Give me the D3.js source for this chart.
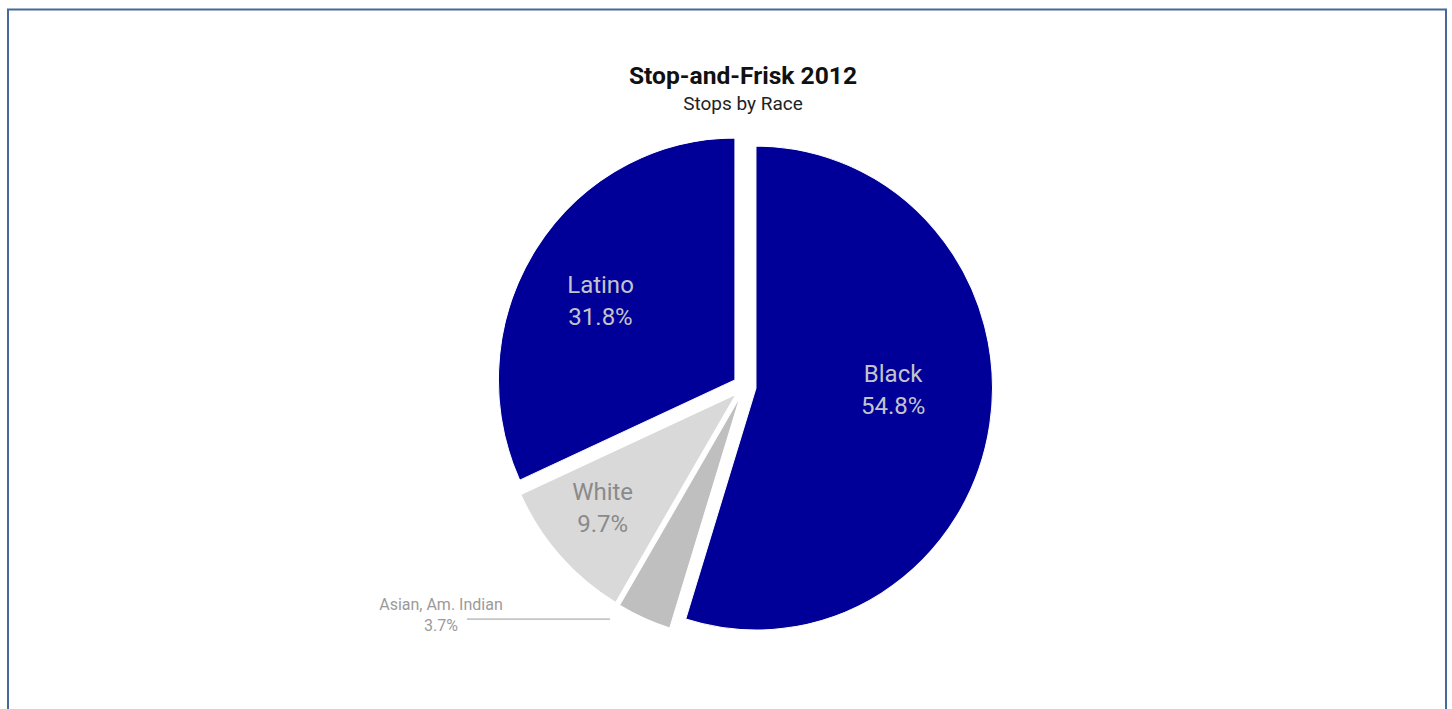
<!DOCTYPE html>
<html>
<head>
<meta charset="utf-8">
<script src="https://cdn.jsdelivr.net/npm/d3@7/dist/d3.min.js"></script>
<style>
  html, body { margin: 0; padding: 0; background: #fff; }
  svg { display: block; }
  text { font-family: Roboto, "Noto Sans", sans-serif; }
</style>
</head>
<body>
<svg id="chart" width="1452" height="709"></svg>
<script>
// Stop-and-Frisk 2012: share of stops by race, clockwise from 12 o'clock
const categories = ["Black", "Asian, Am. Indian", "White", "Latino"];
const shares = [54.8, 3.7, 9.7, 31.8];
const chartTitle = "Stop-and-Frisk 2012";
const chartSubtitle = "Stops by Race";

// Styling per category
const fills = {
  "Black": "#000099",
  "Asian, Am. Indian": "#bfbfbf",
  "White": "#d9d9d9",
  "Latino": "#000099"
};
const labelColors = {
  "Black": "#c4c4c8",
  "White": "#8a8a8a",
  "Latino": "#c4c4c8"
};
// Inside labels: distance from the slice tip (fraction of radius) and a small angular nudge (degrees)
const insidePlacement = {
  "Black": { r: 0.58, turn: -7.9 },
  "White": { r: 0.74, turn: 1.6 },
  "Latino": { r: 0.66, turn: -2.2 }
};
const outsideLabels = ["Asian, Am. Indian"];

const W = 1452, H = 709;
const cx = 744.6, cy = 386.3;   // pie centre
const R = 236.5;                // radius
const yStretch = 1.023;         // slight vertical stretch of the pie
const explode = 11.5;           // every slice is pulled out along its bisector

const svg = d3.select("#chart");

// frame
svg.append("rect")
  .attr("x", 8).attr("y", 9.5)
  .attr("width", 1438).attr("height", 800)
  .attr("fill", "none")
  .attr("stroke", "#44699b")
  .attr("stroke-width", 2);

// titles
svg.append("text")
  .attr("x", 743).attr("y", 84.3)
  .attr("text-anchor", "middle")
  .attr("font-size", 24.6).attr("font-weight", 700)
  .attr("fill", "#111")
  .text(chartTitle);
svg.append("text")
  .attr("x", 743).attr("y", 110)
  .attr("text-anchor", "middle")
  .attr("font-size", 19)
  .attr("fill", "#222")
  .text(chartSubtitle);

const data = categories.map((c, i) => ({ name: c, value: shares[i] }));
const pie = d3.pie().sort(null).value(d => d.value).startAngle(0).endAngle(2 * Math.PI);
const arcs = pie(data);
const arc = d3.arc().innerRadius(0).outerRadius(R);

const mid = d => (d.startAngle + d.endAngle) / 2;
// tip of a slice after it is pulled out, in screen coordinates
const tip = d => [cx + explode * Math.sin(mid(d)), cy - explode * Math.cos(mid(d)) * yStretch];

const pieG = svg.append("g")
  .attr("transform", `translate(${cx},${cy}) scale(1,${yStretch})`);

pieG.selectAll("path.slice")
  .data(arcs)
  .join("path")
  .attr("class", "slice")
  .attr("transform", d => `translate(${explode * Math.sin(mid(d))},${-explode * Math.cos(mid(d))})`)
  .attr("d", arc)
  .attr("fill", d => fills[d.data.name])
  .attr("stroke", "#fff")
  .attr("stroke-width", 1);

// labels inside the larger slices
const lineGap = 31.5;
arcs.filter(d => insidePlacement[d.data.name]).forEach(d => {
  const p = insidePlacement[d.data.name];
  const a = mid(d) + p.turn * Math.PI / 180;
  const [tx, ty] = tip(d);
  const x = tx + p.r * R * Math.sin(a);
  const y = ty - p.r * R * Math.cos(a);
  const t = svg.append("text")
    .attr("text-anchor", "middle")
    .attr("font-size", 24)
    .attr("fill", labelColors[d.data.name]);
  t.append("tspan").attr("x", x).attr("y", y - 7.4).text(d.data.name);
  t.append("tspan").attr("x", x).attr("y", y - 7.4 + lineGap).text(d3.format(".1f")(d.data.value) + "%");
});

// small slice: label outside with a horizontal leader line
arcs.filter(d => outsideLabels.includes(d.data.name)).forEach(d => {
  const [tx, ty] = tip(d);
  const ex = tx + R * Math.sin(mid(d));
  const ey = ty - R * Math.cos(mid(d)) * yStretch + 0.9;
  const x2 = ex - 34, x1 = ex - 177;
  svg.append("line")
    .attr("x1", x1).attr("x2", x2)
    .attr("y1", ey).attr("y2", ey)
    .attr("stroke", "#9a9a9a").attr("stroke-width", 1);
  const lx = x1 - 26;
  const t = svg.append("text")
    .attr("text-anchor", "middle")
    .attr("font-size", 16)
    .attr("fill", "#9a9a9a");
  t.append("tspan").attr("x", lx).attr("y", ey - 9).text(d.data.name);
  t.append("tspan").attr("x", lx).attr("y", ey + 11.7).text(d3.format(".1f")(d.data.value) + "%");
});
</script>
</body>
</html>
